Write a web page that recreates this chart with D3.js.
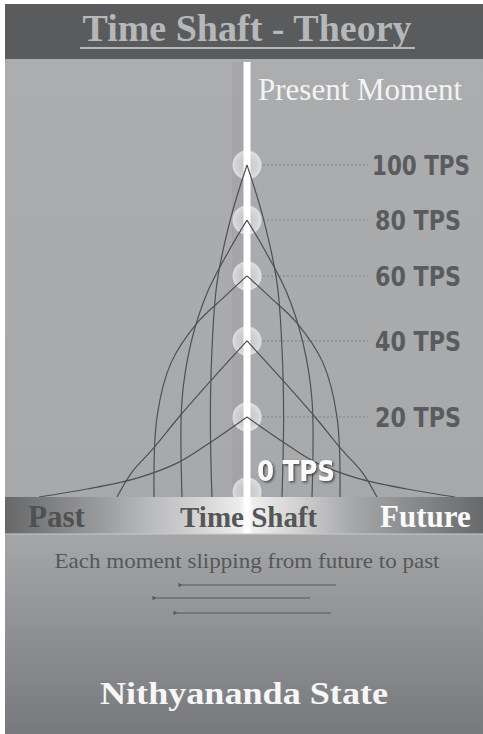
<!DOCTYPE html>
<html>
<head>
<meta charset="utf-8">
<script src="https://cdn.jsdelivr.net/npm/d3@7"></script>
<style>
  html, body { margin: 0; padding: 0; background: #fff; }
  svg { display: block; }
</style>
</head>
<body>
<div id="chart"></div>
<script>
// tps levels marked on the shaft, and where each peak sits (0-100 of shaft height)
var tpsLevels = [100, 80, 60, 40, 20, 0];
var peakHeights = [100, 83.4, 66.6, 47, 24.1, 1.5];

// half profile of each curve: [time offset, height]
var curve100 = [[0, 100], [8, 84.3], [15, 64.5], [17.5, 44.6], [18.3, 24.1], [17.5, 0]];
var curve80 = [[0, 83.4], [8, 75.3], [20, 61.4], [28, 46.4], [32.5, 29.2], [32.5, 0]];
var curve60 = [[0, 66.6], [11.5, 60.2], [25, 52.4], [38, 40.4], [45, 24.1], [46.5, 0]];
var curve40 = [[0, 47], [16.5, 36.1], [34, 24.1], [47.5, 14.2], [57.5, 7.5], [65, 0]];
var curve20 = [[0, 24.1], [16.5, 17.2], [35, 10.2], [55, 5.7], [80, 2.4], [104, 0]];
var curves = [curve100, curve80, curve60, curve40, curve20];

// arrows under the caption: [start, end] in time units
var arrowStarts = [44.5, 31.5, 42];
var arrowEnds = [-32, -45, -34.5];

var barLabels = ["Past", "Time Shaft", "Future"];

var W = 483, H = 734;
var shaftX = 247;
var barTop = 497, barBottom = 534;

var x = d3.scaleLinear().domain([-100, 100]).range([shaftX - 200, shaftX + 200]);
var y = d3.scaleLinear().domain([0, 100]).range([barTop, 165]);

var svg = d3.select("#chart").append("svg").attr("width", W).attr("height", H);
var defs = svg.append("defs");

// background gradient
var bg = defs.append("linearGradient").attr("id", "bg")
  .attr("x1", 0).attr("y1", 0).attr("x2", 0).attr("y2", 1);
bg.append("stop").attr("offset", 0).attr("stop-color", "#abadaf");
bg.append("stop").attr("offset", 0.65).attr("stop-color", "#a7a9ab");
bg.append("stop").attr("offset", 0.74).attr("stop-color", "#a2a4a6");
bg.append("stop").attr("offset", 1).attr("stop-color", "#77797c");

// time shaft bar gradient
var bar = defs.append("linearGradient").attr("id", "bar")
  .attr("x1", 0).attr("y1", 0).attr("x2", 1).attr("y2", 0);
[[0, "#666769"], [0.03, "#6e6f71"], [0.2, "#9a9b9d"], [0.3, "#b8b9bb"], [0.41, "#d5d5d5"],
 [0.49, "#ececec"], [0.506, "#ffffff"], [0.52, "#eeeeee"], [0.62, "#cfcfcf"],
 [0.72, "#a8a9ab"], [0.83, "#8e8f91"], [0.97, "#6f7072"], [1, "#676869"]]
  .forEach(function (s) {
    bar.append("stop").attr("offset", s[0]).attr("stop-color", s[1]);
  });

var glow = defs.append("radialGradient").attr("id", "glow");
glow.append("stop").attr("offset", 0).attr("stop-color", "#fff").attr("stop-opacity", 0.3);
glow.append("stop").attr("offset", 0.75).attr("stop-color", "#fff").attr("stop-opacity", 0.5);
glow.append("stop").attr("offset", 1).attr("stop-color", "#fff").attr("stop-opacity", 0.65);

defs.append("marker").attr("id", "head")
  .attr("viewBox", "0 0 10 10").attr("refX", 1).attr("refY", 5)
  .attr("markerWidth", 7).attr("markerHeight", 5).attr("orient", "auto-start-reverse")
  .append("path").attr("d", "M10,1 L0,5 L10,9 Z").attr("fill", "#55575a");

var shadow = defs.append("filter").attr("id", "shadow")
  .attr("x", -0.2).attr("y", -0.2).attr("width", 1.4).attr("height", 1.4);
shadow.append("feDropShadow").attr("dx", 1.5).attr("dy", 1.5).attr("stdDeviation", 1.2)
  .attr("flood-color", "#333").attr("flood-opacity", 0.8);

// panels
svg.append("rect").attr("x", 5).attr("y", 4).attr("width", W - 5).attr("height", H - 4)
  .attr("fill", "url(#bg)");
svg.append("rect").attr("x", 5).attr("y", 4).attr("width", W - 5).attr("height", 55)
  .attr("fill", "#5a5b5d");

svg.append("text").attr("x", shaftX).attr("y", 41)
  .attr("text-anchor", "middle")
  .attr("font-family", "Liberation Serif, Times New Roman, serif")
  .attr("font-weight", "bold").attr("font-size", 38)
  .attr("fill", "#b5b7b9")
  .text("Time Shaft - Theory");
svg.append("line").attr("x1", 80).attr("x2", 415).attr("y1", 48).attr("y2", 48)
  .attr("stroke", "#b5b7b9").attr("stroke-width", 2);

// darker strip beside the shaft
svg.append("rect").attr("x", shaftX - 15).attr("y", 62).attr("width", 12)
  .attr("height", barTop - 62).attr("fill", "#8a7f95").attr("opacity", 0.12);

svg.append("text").attr("x", 258).attr("y", 100)
  .attr("font-family", "Liberation Serif, Times New Roman, serif")
  .attr("font-size", 31).attr("fill", "#f3f3f3")
  .text("Present Moment");

// dotted guides
svg.selectAll(".guide").data(tpsLevels.slice(0, 5)).enter()
  .append("line").attr("class", "guide")
  .attr("x1", shaftX + 16).attr("x2", 368)
  .attr("y1", function (d, i) { return y(peakHeights[i]); })
  .attr("y2", function (d, i) { return y(peakHeights[i]); })
  .attr("stroke", "#8e9093").attr("stroke-width", 1.5).attr("stroke-dasharray", "2,2");

// circles
svg.selectAll(".dot").data(tpsLevels).enter()
  .append("circle").attr("class", "dot")
  .attr("cx", x(0))
  .attr("cy", function (d, i) { return y(peakHeights[i]); })
  .attr("r", 14.5)
  .attr("fill", "url(#glow)");

// the shaft itself
svg.append("rect").attr("x", shaftX - 3.5).attr("y", 62).attr("width", 7)
  .attr("height", barBottom - 62).attr("fill", "#fff");

// curves
var line = d3.line()
  .x(function (d) { return x(d[0]); })
  .y(function (d) { return y(d[1]); })
  .curve(d3.curveCatmullRom.alpha(0.5));

curves.forEach(function (c) {
  var left = c.map(function (p) { return [-p[0], p[1]]; });
  [c, left].forEach(function (half) {
    svg.append("path").attr("d", line(half))
      .attr("fill", "none").attr("stroke", "#4e5053").attr("stroke-width", 1.2);
  });
});

// tps labels
var labelFont = "Liberation Sans Narrow, DejaVu Sans Condensed, sans-serif";
svg.selectAll(".tps").data(tpsLevels.slice(0, 5)).enter()
  .append("text").attr("class", "tps")
  .attr("x", function (d) { return d >= 100 ? 372 : 375; })
  .attr("y", function (d, i) { return y(peakHeights[i]) + 10; })
  .attr("font-family", labelFont)
  .attr("font-weight", "bold").attr("font-size", 26)
  .attr("fill", "#595b5e")
  .attr("textLength", function (d) { return d >= 100 ? 98 : 86; })
  .attr("lengthAdjust", "spacingAndGlyphs")
  .text(function (d) { return d + " TPS"; });

svg.append("text").attr("x", 257).attr("y", 481)
  .attr("font-family", labelFont)
  .attr("font-weight", "bold").attr("font-size", 29)
  .attr("fill", "#fafafa").attr("filter", "url(#shadow)")
  .attr("textLength", 78).attr("lengthAdjust", "spacingAndGlyphs")
  .text(tpsLevels[5] + " TPS");

// time shaft bar
svg.append("rect").attr("x", 5).attr("y", barTop).attr("width", W - 5)
  .attr("height", barBottom - barTop).attr("fill", "url(#bar)");
svg.append("rect").attr("x", shaftX - 3).attr("y", barTop).attr("width", 6)
  .attr("height", barBottom - barTop).attr("fill", "#fff").attr("opacity", 0.8);
svg.append("line").attr("x1", 5).attr("x2", W).attr("y1", barBottom).attr("y2", barBottom)
  .attr("stroke", "#c9cacc").attr("stroke-width", 1);

var barX = [28, 180, 380];
var barColor = ["#4f5052", "#555658", "#fbfbfb"];
var barSize = [31, 29, 31];
svg.selectAll(".barlabel").data(barLabels).enter()
  .append("text").attr("class", "barlabel")
  .attr("x", function (d, i) { return barX[i]; })
  .attr("y", 527)
  .attr("font-family", "Liberation Serif, Times New Roman, serif")
  .attr("font-weight", "bold")
  .attr("font-size", function (d, i) { return barSize[i]; })
  .attr("fill", function (d, i) { return barColor[i]; })
  .text(function (d) { return d; });

svg.append("text").attr("x", shaftX).attr("y", 568)
  .attr("text-anchor", "middle")
  .attr("font-family", "Liberation Serif, Times New Roman, serif")
  .attr("font-size", 22).attr("fill", "#55575a")
  .attr("textLength", 385).attr("lengthAdjust", "spacingAndGlyphs")
  .text("Each moment slipping from future to past");

// arrows
var arrowY = [585, 598, 613];
svg.selectAll(".arrow").data(arrowStarts).enter()
  .append("line").attr("class", "arrow")
  .attr("x1", function (d) { return x(d); })
  .attr("x2", function (d, i) { return x(arrowEnds[i]); })
  .attr("y1", function (d, i) { return arrowY[i]; })
  .attr("y2", function (d, i) { return arrowY[i]; })
  .attr("stroke", "#55575a").attr("stroke-width", 1)
  .attr("marker-end", "url(#head)");

svg.append("text").attr("x", 244).attr("y", 704)
  .attr("text-anchor", "middle")
  .attr("font-family", "Liberation Serif, Times New Roman, serif")
  .attr("font-weight", "bold").attr("font-size", 31).attr("fill", "#f6f6f6")
  .attr("textLength", 288).attr("lengthAdjust", "spacingAndGlyphs")
  .text("Nithyananda State");
</script>
</body>
</html>
